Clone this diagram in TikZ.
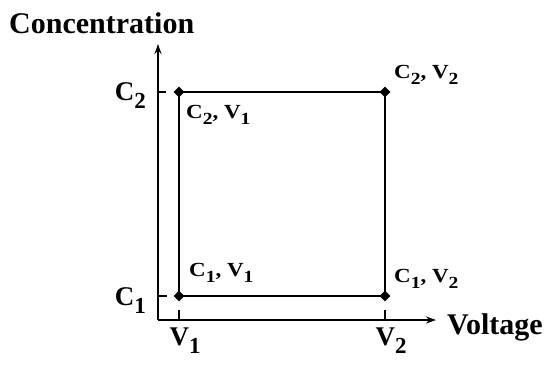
\documentclass[tikz,border=0pt]{standalone}
\usepackage{fontspec}
\usepackage{graphicx}
\setmainfont{Liberation Serif}
\usetikzlibrary{arrows.meta,shapes.geometric}
\newcommand\sbs[1]{\raisebox{-0.32em}{\scalebox{0.85}{#1}}}
\begin{document}
\begin{tikzpicture}[x=1pt,y=-1pt,
  axis/.style={line width=2pt,-{Stealth[length=10pt,width=7pt]}},
  edge/.style={line width=2pt},
  tick/.style={line width=1.5pt},
  dot/.style={diamond,fill=black,inner sep=0pt,minimum size=11pt},
  axlab/.style={font=\fontsize{30}{32}\selectfont\bfseries,inner sep=0pt},
  ticklab/.style={font=\fontsize{27}{29}\selectfont\bfseries,inner sep=0pt},
  ptlab/.style={font=\fontsize{20}{22}\selectfont\bfseries,inner sep=0pt}]
\useasboundingbox (0,0) rectangle (551,365);
\fill[white] (0,0) rectangle (551,365);
% axes
\coordinate (O) at (158,320);
\coordinate (ytip) at (158,44);
\coordinate (xtip) at (436,320);
\draw[axis] (O) -- (ytip);
\draw[axis] (O) -- (xtip);
% corners
\node[dot] (p11) at (179,296) {};
\node[dot] (p21) at (179,92) {};
\node[dot] (p22) at (385,92) {};
\node[dot] (p12) at (385,296) {};
\draw[edge] (p11.center) -- (p21.center) -- (p22.center) -- (p12.center) -- cycle;
% ticks
\coordinate (tc2) at (158,92);
\coordinate (tc1) at (158,296);
\coordinate (tv1) at (179,320);
\coordinate (tv2) at (385,320);
\draw[tick] (tc2) -- ++(8,0);
\draw[tick] (tc1) -- ++(9,0);
\draw[tick] (tv1) -- ++(0,-10);
\draw[tick] (tv2) -- ++(0,-10);
% labels
\node[axlab,anchor=base west] (conc) at (9,33) {Concentration};
\node[axlab,anchor=base west] (volt) at (447,334) {Voltage};
\node[ticklab,anchor=base east] (lc2) at (146,100) {C\sbs{2}};
\node[ticklab,anchor=base east] (lc1) at (146,305) {C\sbs{1}};
\node[ticklab,anchor=base] (lv1) at (185,345) {V\sbs{1}};
\node[ticklab,anchor=base] (lv2) at (391,345) {V\sbs{2}};
\node[ptlab,anchor=base west] (l21) at (186,118) {\scalebox{1.15}[1]{C\sbs{2}, V\sbs{1}}};
\node[ptlab,anchor=base west] (l22) at (394,78) {\scalebox{1.15}[1]{C\sbs{2}, V\sbs{2}}};
\node[ptlab,anchor=base west] (l11) at (189,276) {\scalebox{1.15}[1]{C\sbs{1}, V\sbs{1}}};
\node[ptlab,anchor=base west] (l12) at (394,282) {\scalebox{1.15}[1]{C\sbs{1}, V\sbs{2}}};
\end{tikzpicture}
\end{document}
